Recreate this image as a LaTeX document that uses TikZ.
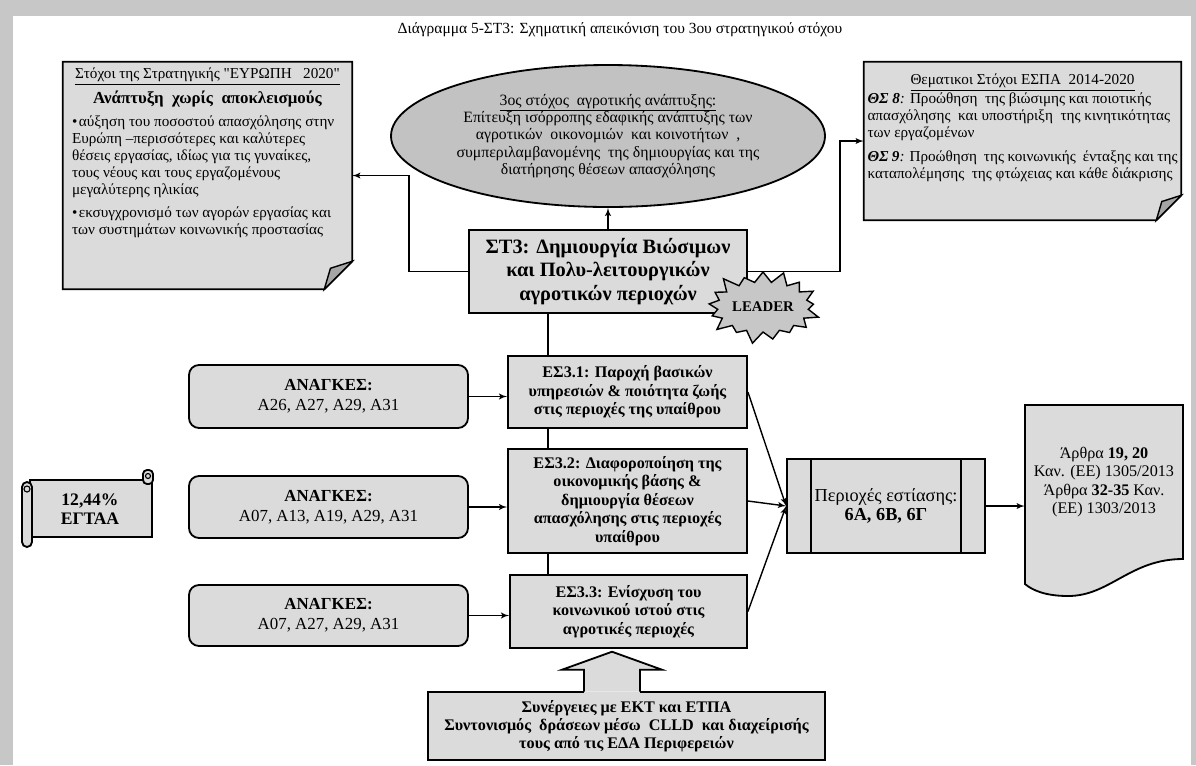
\documentclass[tikz,border=0pt]{standalone}
\usepackage{fontspec}
\setmainfont{Liberation Serif}
\usepackage{tikz}
\usetikzlibrary{arrows, calc, shapes.geometric, shapes.symbols}
\newdimen\pxl \pxl=0.025cm
\tikzstyle{line} = [draw, line width=1pt, -latex']
\tikzstyle{link} = [draw, line width=1pt]
\tikzstyle{box} = [draw, line width=1.3pt, fill=black!14]
\tikzstyle{goal} = [box, align=center, inner sep=0pt, font=\fontsize{11.5}{13.2}\selectfont\bfseries]
\tikzstyle{need} = [box, rounded corners=10*\pxl, align=center, inner sep=0pt, minimum width=279*\pxl, font=\fontsize{12}{14.2}\selectfont]
\tikzstyle{note} = [fill=black!14, inner sep=0pt, font=\fontsize{10.8}{12}\selectfont]
\newcommand{\FoldFrame}[2]{%
	\fill[white] ([yshift=#2*\pxl]#1.south east) -- (#1.south east) -- ([xshift=-#2*\pxl]#1.south east) -- cycle;
	\draw[line width=1.3pt] (#1.north west) -- (#1.north east) -- ([yshift=#2*\pxl]#1.south east) -- ([xshift=-#2*\pxl]#1.south east) -- (#1.south west) -- cycle;
	\draw[line width=1pt, fill=black!35] ([yshift=#2*\pxl]#1.south east) -- ([xshift=-0.78*#2*\pxl, yshift=0.75*#2*\pxl]#1.south east) -- ([xshift=-#2*\pxl]#1.south east) -- cycle;%
}

\begin{document}
\begin{tikzpicture}[x=\pxl, y=-\pxl]
\fill[black!22] (0,0) rectangle (1196,765);
\fill[white] (13,16) rectangle (1191,765);
\node[font=\fontsize{11}{12}\selectfont] (title) at (620,30) {Διάγραμμα 5-ΣΤ3: Σχηματική απεικόνιση του 3ου στρατηγικού στόχου};

\node[note, minimum width=289*\pxl] (euro) at (207.5,175.5) {\parbox[c][227\pxl][t]{271\pxl}{\vspace*{6\pxl}\centering\underline{Στόχοι της Στρατηγικής \textquotedbl ΕΥΡΩΠΗ \ \ 2020\textquotedbl}\\[5\pxl]{\fontsize{12}{13}\selectfont\bfseries Ανάπτυξη \ χωρίς \ αποκλεισμούς}\par\vspace{6\pxl}\raggedright
\hangindent=7\pxl\hangafter=1\makebox[7\pxl][l]{•}αύξηση του ποσοστού απασχόλησης στην\\Ευρώπη –περισσότερες και καλύτερες\\θέσεις εργασίας, ιδίως για τις γυναίκες,\\τους νέους και τους εργαζομένους\\μεγαλύτερης ηλικίας\par\vspace{7\pxl}
\hangindent=7\pxl\hangafter=1\makebox[7\pxl][l]{•}εκσυγχρονισμό των αγορών εργασίας και\\των συστημάτων κοινωνικής προστασίας}};
\FoldFrame{euro}{28}
\node[note, minimum width=317*\pxl, font=\fontsize{10.8}{12}\selectfont] (espa) at (1022.5,141) {\parbox[c][158\pxl][t]{310\pxl}{\vspace*{12\pxl}\centering\underline{Θεματικοι Στόχοι ΕΣΠΑ \ 2014-2020}\par\vspace{2\pxl}\raggedright
\textbf{\textit{ΘΣ 8}}\textit{:} Προώθηση \ της βιώσιμης και ποιοτικής\\απασχόλησης \ και υποστήριξη \ της κινητικότητας\\των εργαζομένων\par\vspace{7\pxl}
\textbf{\textit{ΘΣ 9}}\textit{:} Προώθηση \ της κοινωνικής \ ένταξης και της\\καταπολέμησης \ της φτώχειας και κάθε διάκρισης}};
\FoldFrame{espa}{25}

\node[ellipse, draw, line width=1.3pt, fill=black!24, minimum width=434*\pxl, minimum height=142*\pxl, inner sep=0pt, align=center, font=\fontsize{11.2}{12.4}\selectfont] (aim) at (608,136) {\underline{3ος στόχος \ αγροτικής ανάπτυξης:}\\Επίτευξη ισόρροπης εδαφικής ανάπτυξης των\\αγροτικών \ οικονομιών \ και κοινοτήτων \ ,\\συμπεριλαμβανομένης \ της δημιουργίας και της\\διατήρησης θέσεων απασχόλησης};
\node[goal, minimum width=278*\pxl, minimum height=83*\pxl, font=\fontsize{14.5}{17}\selectfont\bfseries] (st3) at (608,271.5) {ΣΤ3: Δημιουργία Βιώσιμων\\και Πολυ-λειτουργικών\\αγροτικών περιοχών};

\node[goal, minimum width=239*\pxl, minimum height=72*\pxl] (es1) at (627.5,392) {ΕΣ3.1: Παροχή βασικών\\υπηρεσιών \& ποιότητα ζωής\\στις περιοχές της υπαίθρου};
\node[goal, minimum width=239*\pxl, minimum height=104*\pxl] (es2) at (627.5,501) {ΕΣ3.2: Διαφοροποίηση της\\οικονομικής βάσης \&\\δημιουργία θέσεων\\απασχόλησης στις περιοχές\\υπαίθρου};
\node[goal, minimum width=237*\pxl, minimum height=73*\pxl] (es3) at (628.5,611.5) {ΕΣ3.3: Ενίσχυση του\\κοινωνικού ιστού στις\\αγροτικές περιοχές};

\node[need, minimum height=63*\pxl] (n1) at (328.5,396.5) {\textbf{ΑΝΑΓΚΕΣ:}\\Α26, Α27, Α29, Α31};
\node[need, minimum height=62*\pxl] (n2) at (328.5,507) {\textbf{ΑΝΑΓΚΕΣ:}\\Α07, Α13, Α19, Α29, Α31};
\node[need, minimum height=61*\pxl] (n3) at (328.5,615.5) {\textbf{ΑΝΑΓΚΕΣ:}\\Α07, Α27, Α29, Α31};

\draw[box] (30,480) rectangle (152,537);
\draw[box, rounded corners=5*\pxl] (22,482) rectangle (32,547);
\draw[box, rounded corners=4*\pxl] (143,470) rectangle (153,484);
\draw[line width=0.8pt] (27,489) circle (3) (148,476) circle (2.5);
\node[align=center, font=\fontsize{12.5}{14}\selectfont\bfseries] (fund) at (90,509) {12,44\%\\ΕΓΤΑΑ};

\node[box, minimum width=198*\pxl, minimum height=94*\pxl, align=center, font=\fontsize{13}{14}\selectfont] (per) at (886,506) {Περιοχές εστίασης:\\\textbf{6Α, 6Β, 6Γ}};
\draw[link] ([xshift=25*\pxl]per.north west) -- ([xshift=25*\pxl]per.south west);
\draw[link] ([xshift=-25*\pxl]per.north east) -- ([xshift=-25*\pxl]per.south east);

\draw[box] (1025,405) -- (1183,405) -- (1183,559) .. controls (1130,559) and (1110,596) .. (1068,596) .. controls (1045,596) and (1032,590) .. (1025,584) -- cycle;
\node[align=center, minimum width=158*\pxl, font=\fontsize{11.5}{13}\selectfont] (arthra) at (1104,482) {Άρθρα \textbf{19, 20}\\Καν. (ΕΕ) 1305/2013\\Άρθρα \textbf{32-35} Καν.\\(ΕΕ) 1303/2013};

\node[fill=black!14, minimum width=397*\pxl, minimum height=68*\pxl, align=center, inner sep=0pt, font=\fontsize{11.5}{13}\selectfont\bfseries] (syn) at (626.5,726) {Συνέργειες με ΕΚΤ και ΕΤΠΑ\\Συντονισμός \ δράσεων μέσω \ CLLD \ και διαχείρισής\\τους από τις ΕΔΑ Περιφερειών};
\draw[line width=1.3pt, fill=black!14] ($(syn.north)+(-42.5,0)$) -- ($(syn.north)+(-42.5,-22)$) -- ($(syn.north)+(-64.5,-22)$) -- ($(syn.north)+(-14.5,-40)$) -- ($(syn.north)+(35.5,-22)$) -- ($(syn.north)+(13.5,-22)$) -- ($(syn.north)+(13.5,0)$);
\draw[line width=1.3pt] ($(syn.north)+(-42.5,0)$) -- (syn.north west) -- (syn.south west) -- (syn.south east) -- (syn.north east) -- ($(syn.north)+(13.5,0)$);

\coordinate (spine) at (548,0);
\draw[line] (st3.north) -- (st3.north |- aim.south);
\draw[line] (st3.west) -- ++(-59,0) |- (euro.east);
\draw[line] (st3.east) -- ++(92,0) |- (espa.west);
\draw[link] (st3.south -| spine) -- (es1.north -| spine);
\draw[link] (es1.south -| spine) -- (es2.north -| spine);
\draw[link] (es2.south -| spine) -- (es3.north -| spine);
\draw[line] (n1.east) -- (n1.east -| es1.west);
\draw[line] (n2.east) -- (n2.east -| es2.west);
\draw[line] (n3.east) -- (n3.east -| es3.west);
\draw[line] (es1.east) -- (per.west);
\draw[line] (es2.east) -- (per.west);
\draw[line] (es3.east) -- (per.west);
\draw[line] (per.east) -- (per.east -| arthra.west);

\node[draw, starburst, fill=black!22, line width=1pt, minimum width=2.9cm, minimum height=1.95cm, starburst point height=0.35cm, inner sep=1pt, font=\fontsize{10.5}{12}\selectfont\bfseries] (leader) at (763,307) {LEADER};
\end{tikzpicture}
\end{document}
